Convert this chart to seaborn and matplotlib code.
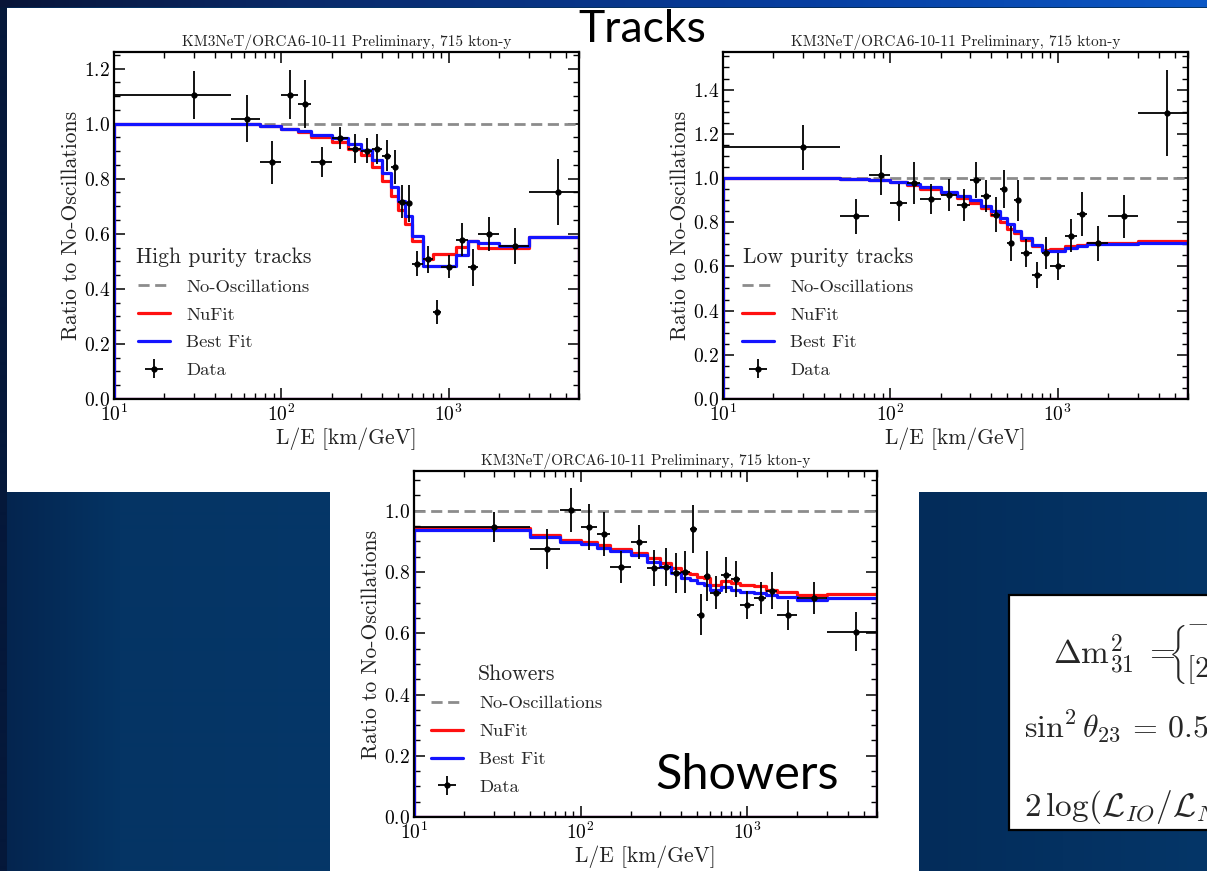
import numpy as np
import matplotlib
matplotlib.use("Agg")
import matplotlib.pyplot as plt
import seaborn as sns
from matplotlib.patches import Rectangle
from matplotlib.lines import Line2D
from matplotlib.ticker import MultipleLocator, LogLocator, NullFormatter
from matplotlib.mathtext import MathTextParser
from matplotlib.font_manager import FontProperties

sns.set_theme(style="ticks")
plt.rcParams.update({
    "font.family": "cmr10",
    "mathtext.fontset": "cm",
    "axes.formatter.use_mathtext": True,
    "axes.unicode_minus": False,
})

# L/E binning shared by all event classes [km/GeV]
bin_edges = [10, 50, 75, 100, 125, 150, 200, 250, 300, 350, 400, 450, 500,
             550, 600, 700, 800, 900, 1100, 1300, 1500, 2000, 3000, 6000]

# High purity tracks
hpt_data = [1.103, 1.018, 0.859, 1.105, 1.070, 0.860, 0.948, 0.909, 0.902, 0.907, 0.884, 0.843,
            0.716, 0.710, 0.492, 0.507, 0.317, 0.480, 0.579, 0.478, 0.599, 0.556, 0.752]
hpt_err = [0.087, 0.085, 0.077, 0.090, 0.087, 0.055, 0.040, 0.053, 0.046, 0.054, 0.057, 0.062,
           0.060, 0.066, 0.047, 0.048, 0.044, 0.042, 0.060, 0.068, 0.062, 0.066, 0.119]
hpt_nufit = [1.0, 0.997, 0.99, 0.98, 0.968, 0.953, 0.934, 0.907, 0.885, 0.843, 0.791, 0.737,
             0.686, 0.635, 0.573, 0.507, 0.526, 0.526, 0.553, 0.575, 0.548, 0.548, 0.59]
hpt_best = [1.0, 0.998, 0.99, 0.982, 0.973, 0.96, 0.946, 0.925, 0.903, 0.867, 0.82, 0.77,
            0.718, 0.664, 0.591, 0.484, 0.484, 0.484, 0.522, 0.575, 0.565, 0.556, 0.59]

# Low purity tracks
lpt_data = [1.139, 0.826, 1.012, 0.889, 0.977, 0.906, 0.924, 0.879, 0.992, 0.917, 0.834, 0.950,
            0.705, 0.899, 0.660, 0.562, 0.660, 0.600, 0.739, 0.837, 0.705, 0.826, 1.294]
lpt_err = [0.102, 0.078, 0.090, 0.085, 0.094, 0.068, 0.072, 0.072, 0.081, 0.072, 0.079, 0.087,
           0.079, 0.094, 0.064, 0.060, 0.072, 0.060, 0.076, 0.100, 0.079, 0.096, 0.196]
lpt_nufit = [1.0, 0.996, 0.99, 0.98, 0.968, 0.952, 0.932, 0.91, 0.887, 0.863, 0.834, 0.80,
             0.77, 0.75, 0.72, 0.69, 0.675, 0.678, 0.69, 0.695, 0.705, 0.705, 0.713]
lpt_best = [1.0, 0.997, 0.99, 0.982, 0.972, 0.958, 0.938, 0.92, 0.9, 0.875, 0.85, 0.82,
            0.79, 0.76, 0.73, 0.695, 0.668, 0.668, 0.685, 0.69, 0.70, 0.70, 0.705]

# Showers
shw_data = [0.947, 0.875, 1.003, 0.947, 0.925, 0.816, 0.898, 0.812, 0.816, 0.796, 0.800, 0.941,
            0.660, 0.787, 0.733, 0.790, 0.777, 0.692, 0.716, 0.739, 0.660, 0.716, 0.605]
shw_err = [0.050, 0.064, 0.072, 0.074, 0.072, 0.052, 0.057, 0.059, 0.063, 0.066, 0.068, 0.078,
           0.067, 0.082, 0.053, 0.058, 0.058, 0.046, 0.053, 0.060, 0.049, 0.052, 0.064]
shw_nufit = [0.945, 0.921, 0.905, 0.898, 0.888, 0.875, 0.862, 0.845, 0.829, 0.812, 0.796, 0.794,
             0.785, 0.78, 0.758, 0.772, 0.763, 0.758, 0.754, 0.741, 0.736, 0.725, 0.727]
shw_best = [0.937, 0.914, 0.897, 0.89, 0.878, 0.869, 0.855, 0.834, 0.818, 0.796, 0.779, 0.774,
            0.763, 0.758, 0.741, 0.75, 0.741, 0.736, 0.733, 0.725, 0.72, 0.709, 0.714]

TITLE = "KM3NeT/ORCA6-10-11 Preliminary, 715 kton-y"
XLABEL = "L/E [km/GeV]"
YLABEL = "Ratio to No-Oscillations"
LABELS = ["No-Oscillations", "NuFit", "Best Fit", "Data"]

edges = np.asarray(bin_edges, float)
lo, hi = edges[:-1], edges[1:]
centers = 0.5 * (lo + hi)

W, H = 1207, 871
fig = plt.figure(figsize=(W / 100, H / 100), dpi=100)

# ---- slide background -------------------------------------------------------
bg = fig.add_axes([0, 0, 1, 1])
bg.set_zorder(-5)
bg.set_xlim(0, W)
bg.set_ylim(H, 0)
bg.axis("off")

xcol = np.arange(W)
def col_profile(stops):
    xs = [s[0] for s in stops]
    return np.stack([np.interp(xcol, xs, [s[1][i] for s in stops]) for i in range(3)], axis=1) / 255.0

lower = col_profile([(0, (4, 36, 78)), (120, (5, 52, 100)), (330, (5, 55, 104)),
                     (919, (3, 44, 90)), (1207, (5, 54, 104))])
top = col_profile([(0, (8, 20, 55)), (300, (10, 42, 105)), (800, (6, 62, 160)), (1207, (12, 88, 198))])
img = np.repeat(lower[None, :, :], H, axis=0)
img[:8, :, :] = top[None, :, :]
img[8:, :7, :] = np.array([5, 24, 58]) / 255.0
bg.imshow(img, extent=(0, W, H, 0), aspect="auto", interpolation="bilinear")

bg.add_patch(Rectangle((7, 8), W - 7, 492 - 8, facecolor="white", edgecolor="none"))
bg.add_patch(Rectangle((330, 491), 919 - 330, H - 491, facecolor="white", edgecolor="none"))

# parameter box
bg.add_patch(Rectangle((1009, 595), 220, 235, facecolor="white", edgecolor="black", lw=1.6))


def math_extent(s, size):
    """Total height (px) of a mathtext string, or None if it does not parse."""
    try:
        r = MathTextParser("agg").parse(s, dpi=100, prop=FontProperties(size=size))
        return float(r[3] + r[4])
    except Exception:
        return None


eq_size = 24
bg.text(1053, 655, r"$\Delta\mathrm{m}^2_{31}\;=$", fontsize=eq_size, ha="left", va="center")

# two-row "cases" block: brace sized by the stacked rows
nested = (r"$\left\{\genfrac{}{}{0}{0}{\genfrac{}{}{0}{0}{-}{\ }}"
          r"{\genfrac{}{}{0}{0}{\ }{[2}}\right.$")
simple = r"$\left\{\genfrac{}{}{0}{0}{-}{[2}\right.$"
cases, h = None, None
for cand in (nested, simple):
    h = math_extent(cand, eq_size)
    if h:
        cases = cand
        break
if cases is not None:
    size = eq_size * min(max(100.0 / h, 0.85), 1.25)
    bg.text(1168, 655, cases, fontsize=size, ha="left", va="center")
else:
    bg.text(1168, 655, r"$\{$", fontsize=44, ha="left", va="center")
    bg.text(1190, 632, r"$-$", fontsize=eq_size, ha="left", va="center")
    bg.text(1190, 673, r"$[2$", fontsize=eq_size, ha="left", va="center")

bg.text(1024, 727, r"$\sin^2\theta_{23}\,=\,0.50$", fontsize=23, ha="left", va="center")
bg.text(1024, 807, r"$2\,\log(\mathcal{L}_{IO}/\mathcal{L}_{NO}$", fontsize=eq_size,
        ha="left", va="center")


# ---- panels -------------------------------------------------------------------
def px_rect(x0, y0, x1, y1):
    return [x0 / W, 1 - y1 / H, (x1 - x0) / W, (y1 - y0) / H]


def panel(rect, data, err, nufit, best, ymax, legend_title, anchor):
    ax = fig.add_axes(rect)
    ax.set_facecolor("white")
    ax.axhline(1.0, color="#8c8c8c", ls=(0, (4, 2)), lw=2.0, zorder=2)
    for vals, col in ((nufit, "#ff1010"), (best, "#1414ff")):
        sns.histplot(x=list(centers), weights=list(vals), bins=list(bin_edges), element="step",
                     fill=True, color=col, facecolor="none", edgecolor=col, linewidth=2.3,
                     zorder=2.5, ax=ax)
    eb = ax.errorbar(centers, data, xerr=[centers - lo, hi - centers], yerr=err,
                     fmt="o", ms=3.5, color="black", ecolor="black", elinewidth=1.3,
                     capsize=0, zorder=3)
    ax.set_xscale("log")
    ax.set_xlim(10, 6000)
    ax.set_ylim(0, ymax)
    ax.yaxis.set_major_locator(MultipleLocator(0.2))
    ax.yaxis.set_minor_locator(MultipleLocator(0.05))
    ax.xaxis.set_major_locator(LogLocator(base=10))
    ax.xaxis.set_minor_locator(LogLocator(base=10, subs=np.arange(2, 10)))
    ax.xaxis.set_minor_formatter(NullFormatter())
    ax.tick_params(which="both", direction="in", top=True, right=True, colors="black",
                   labelsize=14, pad=3)
    ax.tick_params(which="major", length=8, width=1.1)
    ax.tick_params(which="minor", length=4.3, width=1.0)
    for sp in ax.spines.values():
        sp.set_linewidth(1.6)
        sp.set_color("black")
    ax.set_title(TITLE, fontsize=11, pad=4, color="#222222")
    ax.set_xlabel(XLABEL, fontsize=15.5, labelpad=2, color="#222222")
    ax.set_ylabel(YLABEL, fontsize=15.5, labelpad=2, color="#222222")
    handles = [Line2D([], [], color="#8c8c8c", ls=(0, (4, 2)), lw=2.0),
               Line2D([], [], color="#ff1010", lw=2.3),
               Line2D([], [], color="#1414ff", lw=2.3),
               eb]
    ax.legend(handles, LABELS, title=legend_title, loc="lower left", bbox_to_anchor=anchor,
              frameon=False, fontsize=13.4, title_fontsize=15.6, handlelength=1.72,
              handletextpad=0.86, labelspacing=0.634, borderpad=0, borderaxespad=0)
    return ax


panel(px_rect(114, 52, 579, 399), hpt_data, hpt_err, hpt_nufit, hpt_best, 1.26,
      "High purity tracks", (0.047, 0.06))
panel(px_rect(723, 52, 1188, 399), lpt_data, lpt_err, lpt_nufit, lpt_best, 1.57,
      "Low purity tracks", (0.041, 0.06))
panel(px_rect(414, 471, 877, 817), shw_data, shw_err, shw_nufit, shw_best, 1.13,
      "Showers", (0.0367, 0.064))

fig.text(642 / W, 1 - 30 / H, "Tracks", fontsize=32, family="Lato", ha="center", va="center",
         color="black", zorder=10)
fig.text(747 / W, 1 - 775 / H, "Showers", fontsize=35, family="Lato", ha="center", va="center",
         color="black", zorder=10)

fig.savefig("out.png", dpi=100)
